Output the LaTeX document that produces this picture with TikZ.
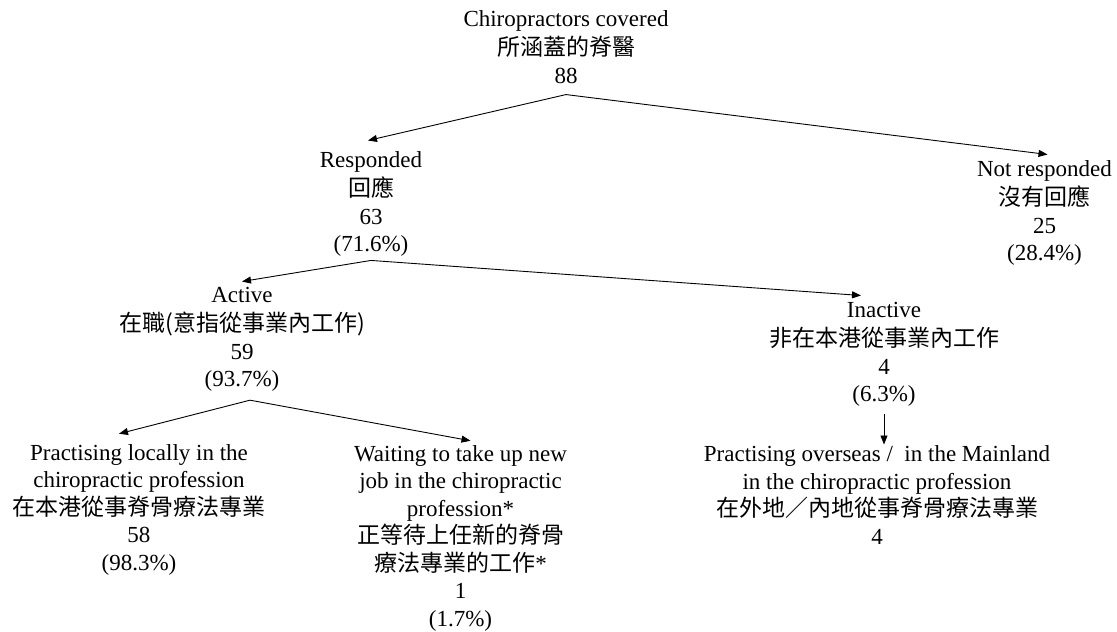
\documentclass[tikz,border=0pt]{standalone}
\usepackage{fontspec}
\setmainfont{Liberation Serif}
\newfontfamily\cjk{Noto Sans CJK TC}
\usetikzlibrary{arrows.meta}

\begin{document}
\begin{tikzpicture}[x=1pt, y=-1pt,
  txt/.style={align=center, anchor=north, inner sep=0pt, font=\fontsize{23}{27.5}\selectfont, execute at end node=\strut},
  conn/.style={-{Triangle[length=9pt,width=7pt]}, line width=0.9pt}]
\useasboundingbox (0, 0) rectangle (1117, 632);

\node[txt] (covered) at (566, 7.5) {\strut Chiropractors covered\\{\cjk 所涵蓋的脊醫}\\88};
\node[txt] (responded) at (371, 148.5) {\strut Responded\\{\cjk 回應}\\63\\(71.6\%)};
\node[txt] (notresp) at (1044.5, 157.5) {\strut Not responded\\{\cjk 沒有回應}\\25\\(28.4\%)};
\node[txt] (active) at (242, 283.5) {\strut Active\\{\cjk 在職(意指從事業內工作)}\\59\\(93.7\%)};
\node[txt] (inactive) at (884, 298.5) {\strut Inactive\\{\cjk 非在本港從事業內工作}\\4\\(6.3\%)};
\node[txt] (local) at (139, 440.75) {\strut Practising locally in the\\chiropractic profession\\{\cjk 在本港從事脊骨療法專業}\\58\\(98.3\%)};
\node[txt] (waiting) at (460.5, 441.75) {\strut Waiting to take up new\\job in the chiropractic\\profession*\\{\cjk 正等待上任新的脊骨}\\{\cjk 療法專業的工作}*\\1\\(1.7\%)};
\node[txt] (overseas) at (877, 442.5) {\strut Practising overseas /\ \ in the Mainland\\in the chiropractic profession\\{\cjk 在外地／內地從事脊骨療法專業}\\4};

\draw[conn] ([yshift=-3pt]covered.south) -- ([xshift=-3pt, yshift=8pt]responded.north);
\draw[conn] ([yshift=-3pt]covered.south) -- ([xshift=3pt, yshift=3pt]notresp.north);
\draw[conn] (responded.south) -- ([yshift=2pt]active.north);
\draw[conn] (responded.south) -- ([xshift=-23pt, yshift=3pt]inactive.north);
\draw[conn] ([xshift=8pt, yshift=-5pt]active.south) -- ([xshift=-20pt, yshift=7pt]local.north);
\draw[conn] ([xshift=8pt, yshift=-5pt]active.south) -- ([xshift=10pt, yshift=1pt]waiting.north);
\draw[conn] ([yshift=-4pt]inactive.south) -- ([yshift=-2pt]overseas.north -| inactive.south);

\end{tikzpicture}
\end{document}
